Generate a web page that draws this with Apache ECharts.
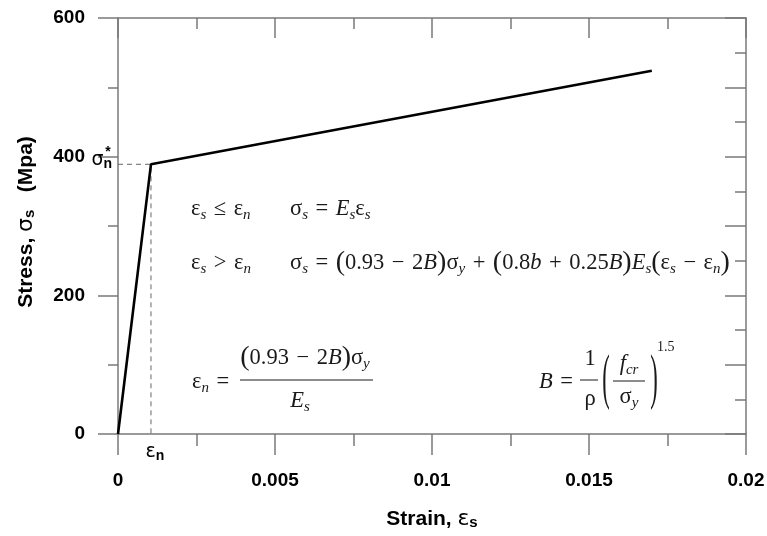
<!DOCTYPE html>
<html>
<head>
<meta charset="utf-8">
<script src="https://cdn.jsdelivr.net/npm/echarts@6/dist/echarts.min.js"></script>
<style>
  html, body { margin: 0; background: #fff; }
  #chart { width: 767px; height: 536px; }
</style>
</head>
<body>
<div id="chart"></div>
<script>
// bilinear stress-strain model (strain, stress in MPa)
var strain = [0, 0.00105, 0.017];
var stress = [0, 389, 524];
// yield point eps_n / sigma_n*
var yieldStrain = 0.00105;
var yieldStress = 389;
var xTickLabels = ['0', '0.005', '0.01', '0.015', '0.02'];
var yTickLabels = ['0', '200', '400', '600'];

var AXIS = '#7a7a7a';
var INK = '#1a1a1a';
var SERIF = '"Liberation Serif", "DejaVu Serif", serif';
var SANS = '"Liberation Sans", Arial, sans-serif';
var FS = 22.5;      // formula font size
var S = '\u2004';   // operator spacing

var chart = echarts.init(document.getElementById('chart'));

function axisBase(extra) {
    var a = {
        axisLine: { show: true, onZero: false, lineStyle: { color: AXIS, width: 1.5 } },
        splitLine: { show: false },
        axisTick: { show: true, length: 20, lineStyle: { color: AXIS, width: 1.5 } },
        minorTick: { show: true, splitNumber: 2, length: 11, lineStyle: { color: AXIS, width: 1.5 } }
    };
    return Object.assign(a, extra);
}

var lineData = strain.map(function (x, i) { return [x, stress[i]]; });
var guideData = [[0, yieldStress], [yieldStrain, yieldStress], [yieldStrain, 0]];

// formula text styles
var R = {
    t: { fontFamily: SERIF, fontSize: FS, fill: INK, lineHeight: 27 },
    i: { fontFamily: SERIF, fontSize: FS, fontStyle: 'italic', fill: INK, lineHeight: 27 },
    sub: { fontFamily: SERIF, fontSize: 15, fontStyle: 'italic', fill: INK, verticalAlign: 'bottom', lineHeight: 15 },
    p: { fontFamily: SERIF, fontSize: 28, fill: INK, lineHeight: 27 }
};

function op(o) { return S + o + S; }

function txt(x, y, s, align, extra) {
    var el = {
        type: 'text', x: x, y: y, z: 10,
        style: {
            text: s, rich: R, fill: INK,
            font: FS + 'px ' + SERIF,
            align: align || 'left', verticalAlign: 'middle'
        }
    };
    return Object.assign(el, extra || {});
}
function bar(x1, x2, y) {
    return { type: 'line', z: 10, shape: { x1: x1, y1: y, x2: x2, y2: y }, style: { stroke: INK, lineWidth: 1 } };
}

var formulas = [
    txt(191, 209, '{t|ε}{sub|s}{t|' + op('≤') + 'ε}{sub|n}'),
    txt(290, 209, '{t|σ}{sub|s}{t|' + op('=') + '}{i|E}{sub|s}{t|ε}{sub|s}'),
    txt(191, 263, '{t|ε}{sub|s}{t|' + op('>') + 'ε}{sub|n}'),
    txt(290, 263, '{t|σ}{sub|s}{t|' + op('=') + '}{p|(}{t|0.93' + op('−') + '2}{i|B}{p|)}{t|σ}{sub|y}{t|' + op('+') +
        '}{p|(}{t|0.8}{i|b}{t|' + op('+') + '0.25}{i|B}{p|)}{i|E}{sub|s}{p|(}{t|ε}{sub|s}{t|' + op('−') + 'ε}{sub|n}{p|)}'),
    txt(192, 382, '{t|ε}{sub|n}{t|' + op('=') + '}'),
    txt(305, 358, '{p|(}{t|0.93' + op('−') + '2}{i|B}{p|)}{t|σ}{sub|y}', 'center'),
    bar(240, 373, 380),
    txt(300, 401, '{i|E}{sub|s}', 'center'),
    txt(539, 382, '{i|B}{t|' + op('=') + '}'),
    txt(590, 359, '{t|1}', 'center'),
    bar(580, 598, 380),
    txt(590, 399, '{t|ρ}', 'center'),
    txt(606, 381, '(', 'center', { scaleY: 2.7 }),
    txt(629, 364, '{i|f}{sub|cr}', 'center'),
    bar(613, 645, 381),
    txt(629, 397, '{t|σ}{sub|y}', 'center'),
    txt(654, 381, ')', 'center', { scaleY: 2.7 }),
    txt(657, 347, '1.5', 'left', { style: { text: '1.5', font: '14px ' + SERIF, fill: INK, align: 'left', verticalAlign: 'middle' } })
];

var nameRich = {
    g: { fontFamily: '"DejaVu Sans"', fontWeight: 'normal', fontSize: 22, color: '#000' },
    sub: { fontFamily: SANS, fontWeight: 'bold', fontSize: 15, color: '#000', verticalAlign: 'bottom', lineHeight: 14 }
};

var option = {
    animation: false,
    backgroundColor: '#fff',
    grid: { left: 118, right: 21, top: 18, bottom: 102, outerBoundsMode: 'none' },
    xAxis: [
        axisBase({
            type: 'value', position: 'bottom', min: 0, max: 0.02, interval: 0.005,
            axisTick: { show: true, length: 21, lineStyle: { color: AXIS, width: 1.5 } },
            minorTick: { show: true, splitNumber: 2, length: 12, lineStyle: { color: AXIS, width: 1.5 } },
            axisLabel: {
                margin: 37, color: '#000', fontFamily: SANS, fontWeight: 'bold', fontSize: 19,
                formatter: function (v) { return xTickLabels[Math.round(v / 0.005)]; }
            },
            name: 'Strain, {g|ε}{sub|s}', nameLocation: 'middle', nameGap: 74,
            nameTextStyle: {
                color: '#000', fontFamily: SANS, fontWeight: 'bold', fontSize: 21, rich: nameRich
            }
        }),
        axisBase({
            type: 'value', position: 'top', min: 0, max: 0.02, interval: 0.005,
            axisTick: { show: true, inside: true, length: 20, lineStyle: { color: AXIS, width: 1.5 } },
            axisLabel: { show: false }
        })
    ],
    yAxis: [
        axisBase({
            type: 'value', position: 'left', min: 0, max: 600, interval: 200,
            minorTick: { show: true, splitNumber: 2, length: 10, lineStyle: { color: AXIS, width: 1.5 } },
            axisLabel: {
                margin: 33, color: '#000', fontFamily: SANS, fontWeight: 'bold', fontSize: 19,
                formatter: function (v) { return yTickLabels[Math.round(v / 200)]; }
            },
            name: 'Stress, {g|σ}{sub|s}   (Mpa)', nameLocation: 'middle', nameGap: 81, nameRotate: 90,
            nameTextStyle: {
                color: '#000', fontFamily: SANS, fontWeight: 'bold', fontSize: 21, rich: nameRich,
                padding: [0, 0, 0, 8]
            }
        }),
        axisBase({
            type: 'value', position: 'right', min: 0, max: 600, interval: 100,
            axisTick: { show: true, inside: true, length: 21, lineStyle: { color: AXIS, width: 1.5 } },
            axisLabel: { show: false }
        })
    ],
    series: [
        {
            type: 'line', data: guideData, symbol: 'none', silent: true, z: 2,
            lineStyle: { color: '#666', width: 1, type: [5, 4] }
        },
        {
            type: 'line', data: lineData, symbol: 'none', silent: true, z: 3,
            lineStyle: { color: '#000', width: 2.6 }
        }
    ],
    graphic: formulas
};
chart.setOption(option);

// labels pinned to the yield point on the axes
var pY = chart.convertToPixel({ gridIndex: 0 }, [0, yieldStress]);
var pX = chart.convertToPixel({ gridIndex: 0 }, [yieldStrain, 0]);
var bold = { fontFamily: SANS, fontWeight: 'bold', fill: '#000' };
var markRich = {
    g: { fontFamily: '"DejaVu Sans"', fontSize: 19, fill: '#000', lineHeight: 22 },
    sub: Object.assign({ fontSize: 14, verticalAlign: 'bottom', lineHeight: 14 }, bold)
};
var axisMarks = [
    {
        type: 'text', x: pY[0] - 6, y: pY[1] - 4, z: 10,
        style: { text: '{g|σ}{sub|n}', align: 'right', verticalAlign: 'middle', rich: markRich }
    },
    {
        type: 'text', x: pY[0] - 10, y: pY[1] - 12, z: 10,
        style: Object.assign({ text: '*', fontSize: 14, align: 'center', verticalAlign: 'middle' }, bold)
    },
    {
        type: 'text', x: pX[0] + 4, y: pX[1] + 18, z: 10,
        style: { text: '{g|ε}{sub|n}', align: 'center', verticalAlign: 'middle', rich: markRich }
    }
];
chart.setOption({ graphic: formulas.concat(axisMarks) });
</script>
</body>
</html>
